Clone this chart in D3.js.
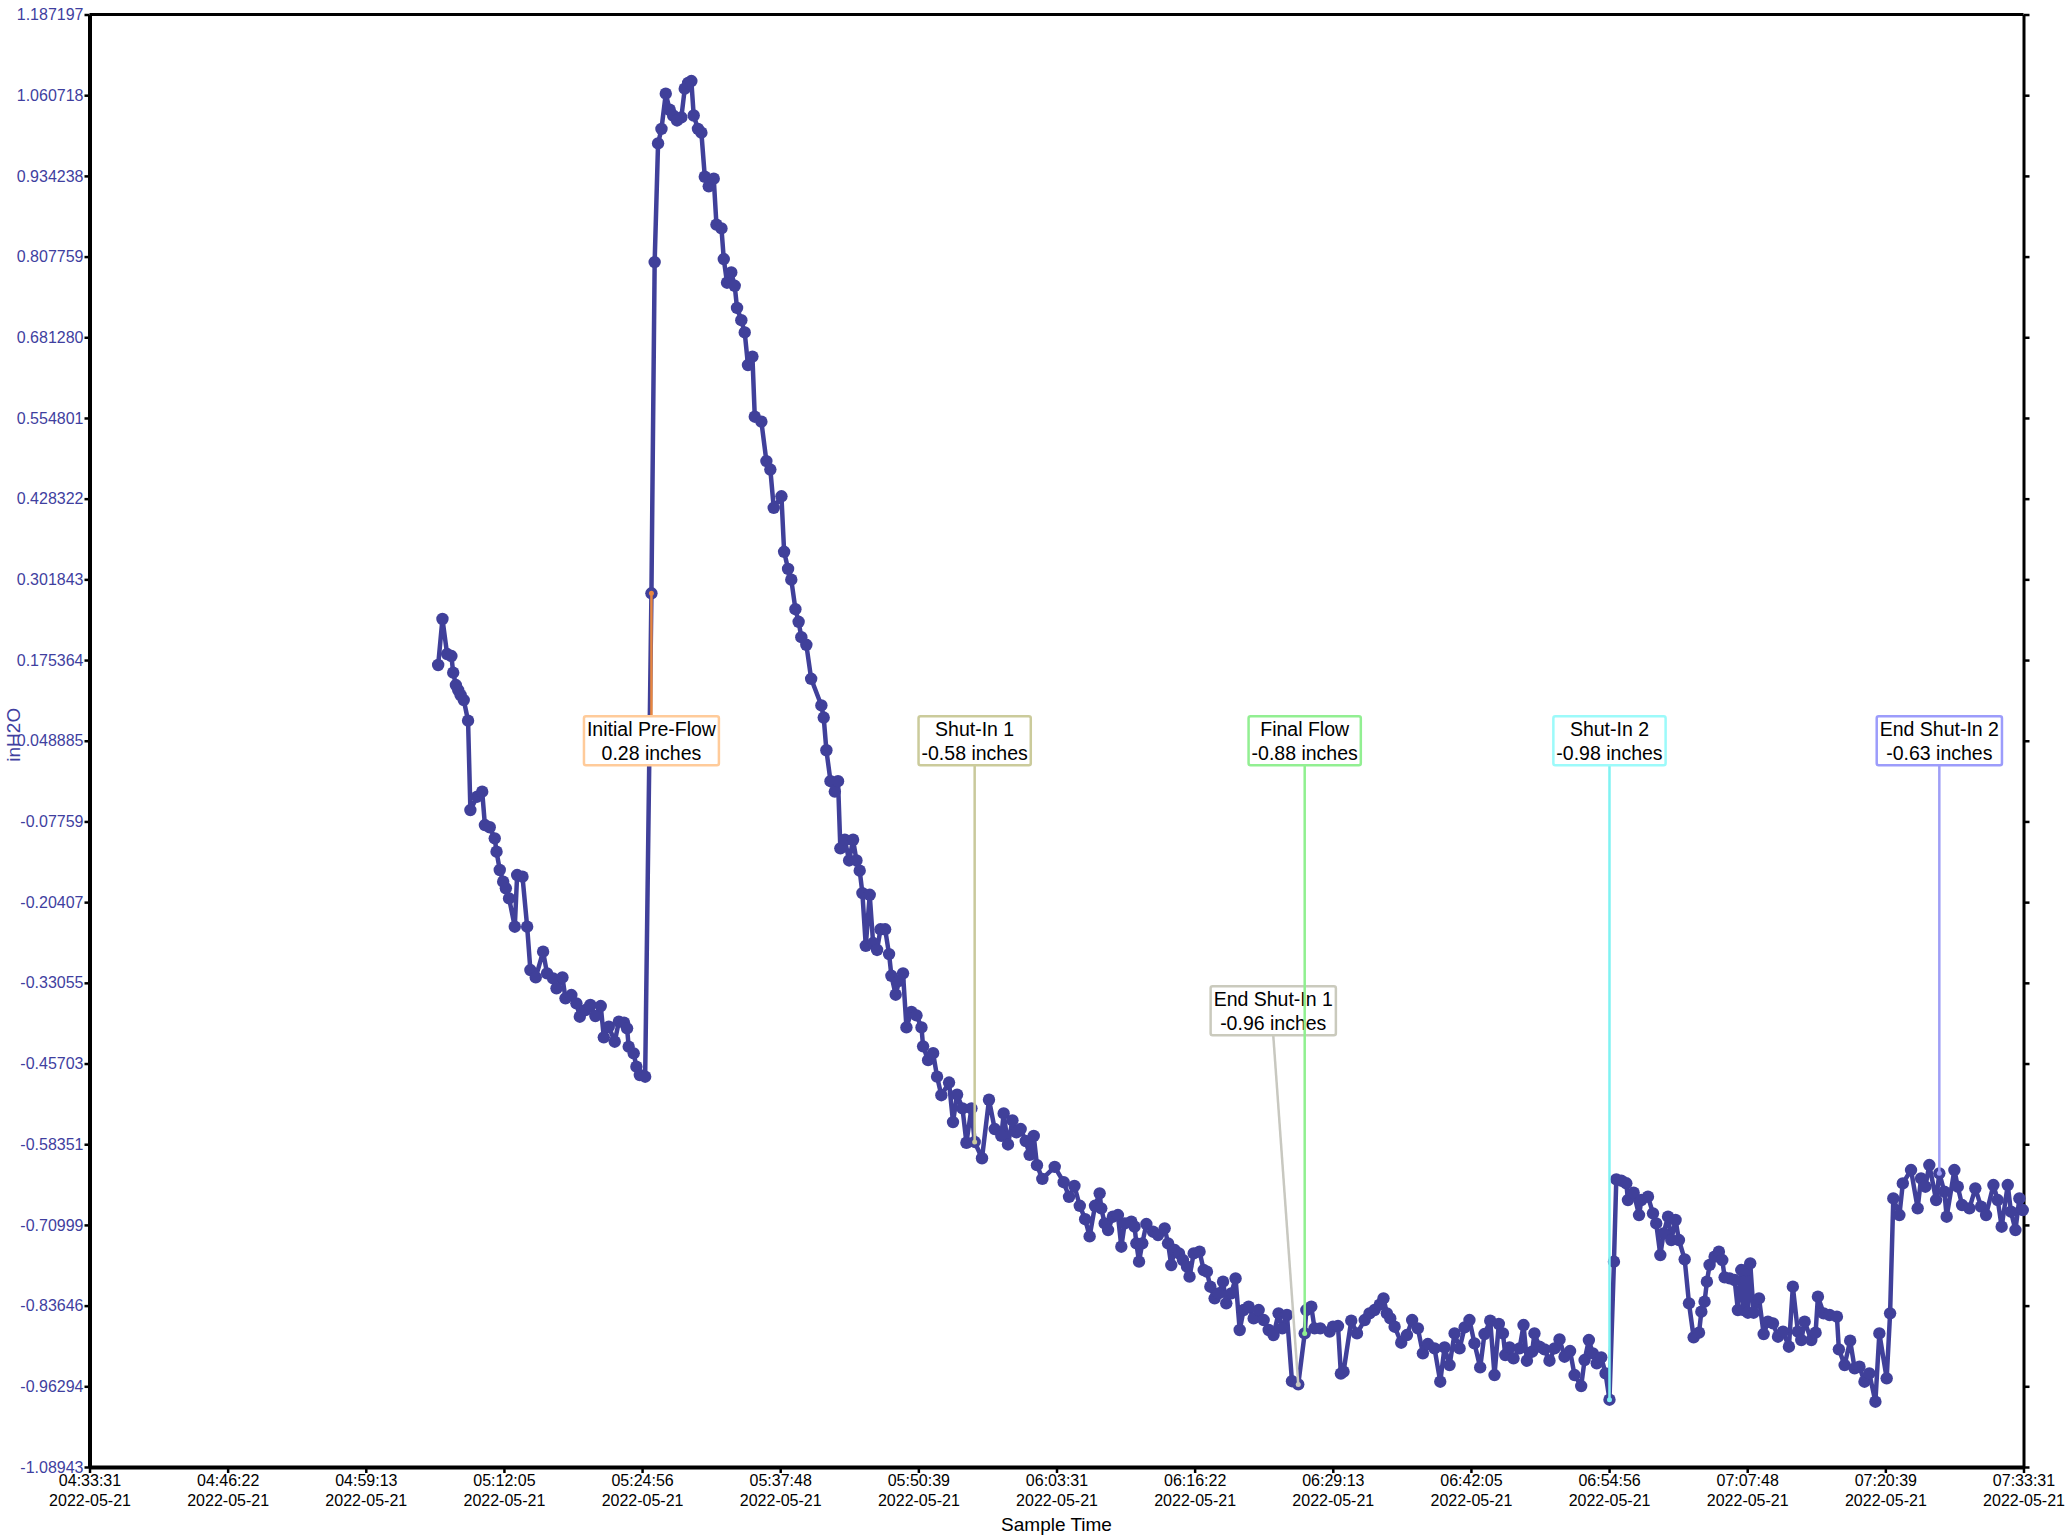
<!DOCTYPE html>
<html>
<head>
<meta charset="utf-8">
<script src="https://cdnjs.cloudflare.com/ajax/libs/d3/7.8.5/d3.min.js"></script>
<style>
  html, body { margin: 0; padding: 0; background: #fff; }
  svg { display: block; font-family: "Liberation Sans", Arial, sans-serif; }
</style>
</head>
<body>
<svg id="chart" width="2067" height="1536"></svg>
<script>
// Sample times, in seconds after 2022-05-21 04:33:31
var elapsedSec = [
  1947, 1971, 1997, 2021, 2031, 2046, 2059, 2072, 2090, 2114, 2127, 2165, 2193, 2208, 2235, 2263, 2273, 2291, 2310, 2325, 2343, 2375, 2388, 2418, 2444, 2462, 2492, 2533, 2555, 2589, 2608, 2641, 2658, 2691, 2719, 2738, 2770, 2797, 2825, 2855, 2872, 2900, 2933, 2956, 2985, 3002, 3011, 3039, 3054, 3073, 3103, 3138,
  3156, 3175, 3194, 3218, 3240, 3259, 3281, 3305, 3324, 3343, 3361, 3374, 3398, 3417, 3436, 3458, 3486, 3501, 3529, 3542, 3560, 3584, 3603, 3616, 3640, 3659, 3677, 3702, 3715, 3752, 3780, 3802, 3821, 3864, 3879, 3901, 3919, 3942, 3960, 3975, 4003, 4030,
  4087, 4100, 4115, 4138, 4162, 4180, 4193, 4218, 4242, 4264, 4283, 4301, 4316, 4335, 4357, 4376, 4398, 4417, 4443, 4465, 4478, 4502, 4521, 4543, 4562, 4590, 4618, 4646, 4655, 4683, 4711, 4733, 4757, 4800, 4822, 4845, 4875, 4897, 4925, 4943, 4984, 5023, 5055, 5092, 5105, 5129, 5154, 5176, 5200, 5228, 5250, 5273, 5291, 5321, 5390,
  5440, 5470, 5500, 5530, 5560, 5585, 5615,
  5641, 5650, 5669, 5688, 5715, 5743, 5762, 5781, 5818, 5836, 5846, 5861, 5879, 5902, 5939, 5967, 6004, 6023, 6041, 6060, 6084, 6106, 6129, 6143, 6166, 6199, 6222, 6240, 6259, 6283, 6305, 6330, 6348, 6376, 6400, 6423, 6445, 6473, 6501, 6529, 6557, 6585, 6612, 6640, 6661, 6687, 6715, 6750, 6786, 6795, 6823, 6841, 6873, 6925, 6944, 6972, 6988, 7003, 7046, 7078, 7121, 7148, 7176, 7205,
  7226, 7245, 7264, 7288, 7325, 7357, 7386, 7418, 7446, 7474, 7511, 7543, 7567, 7595, 7623, 7651, 7679, 7706, 7734, 7766, 7790, 7822, 7846, 7870, 7893, 7906, 7930, 7952, 7986, 8008, 8027, 8056, 8069, 8097, 8125, 8153, 8181, 8209, 8237, 8268, 8293, 8330, 8349, 8373, 8395, 8417, 8442, 8466, 8488, 8513,
  8526, 8554, 8582, 8591, 8623, 8653, 8666, 8703, 8731, 8749, 8772, 8790, 8815, 8833, 8857, 8876, 8908, 8932, 8958, 8988, 9001, 9019, 9032, 9047, 9075, 9099, 9118, 9131, 9159, 9187, 9205, 9224, 9237, 9252, 9261, 9274, 9293, 9323, 9349, 9373, 9401, 9429, 9457, 9490, 9512, 9540, 9559, 9578, 9615, 9639, 9652, 9684, 9717, 9758, 9769, 9801, 9832, 9857, 9884, 9912, 9939, 9973, 9995, 10036, 10055, 10073, 10107, 10126, 10172, 10209, 10228, 10252, 10274, 10312, 10330, 10358, 10371, 10414, 10433, 10457, 10498, 10531, 10563, 10591, 10632, 10656, 10678, 10712, 10730, 10755, 10777, 10796
];

// Pressure readings (inH2O)
var inH2O = [
  0.1676, 0.2397, 0.1848, 0.1817, 0.1556, 0.1362, 0.1284, 0.1206, 0.1127, 0.0803, -0.0597, -0.0388, -0.0310, -0.0832, -0.0867, -0.1041, -0.1250, -0.1537, -0.1720, -0.1825, -0.1982, -0.2426, -0.1616, -0.1642, -0.2426, -0.3105, -0.3220, -0.2817, -0.3157, -0.3236, -0.3392, -0.3220, -0.3549, -0.3497, -0.3627, -0.3836, -0.3732, -0.3653, -0.3826, -0.3669, -0.4160, -0.3993, -0.4228, -0.3915, -0.3930, -0.4019, -0.4307, -0.4411, -0.4620, -0.4751, -0.4777, 0.2800,
  0.7991, 0.9851, 1.0079, 1.0631, 1.0379, 1.0289, 1.0211, 1.0259, 1.0709, 1.0799, 1.0829, 1.0289, 1.0079, 1.0019, 0.9329, 0.9179, 0.9299, 0.8579, 0.8519, 0.8039, 0.7668, 0.7829, 0.7620, 0.7272, 0.7080, 0.6888, 0.6378, 0.6510, 0.5568, 0.5490, 0.4872, 0.4740, 0.4140, 0.4320, 0.3451, 0.3181, 0.3013, 0.2551, 0.2353, 0.2113, 0.1993, 0.1460,
  0.1042, 0.0853, 0.0340, -0.0145, -0.0307, -0.0145, -0.1198, -0.1063, -0.1387, -0.1063, -0.1387, -0.1548, -0.1899, -0.2725, -0.1926, -0.2682, -0.2790, -0.2466, -0.2466, -0.2855, -0.3195, -0.3492, -0.3276, -0.3157, -0.4004, -0.3761, -0.3815, -0.4004, -0.4301, -0.4517, -0.4409, -0.4776, -0.5067, -0.4868, -0.5488, -0.5057, -0.5273, -0.5812, -0.5273, -0.5800, -0.6055, -0.5138, -0.5597, -0.5705, -0.5353, -0.5839, -0.5461, -0.5650, -0.5597, -0.5785, -0.6001, -0.5705, -0.6163, -0.6379, -0.6190,
  -0.6430, -0.6660, -0.6490, -0.6800, -0.7010, -0.7280, -0.6800,
  -0.6605, -0.6840, -0.7076, -0.7180, -0.6971, -0.6945, -0.7441, -0.7076, -0.7049, -0.7128, -0.7389, -0.7676, -0.7389, -0.7086, -0.7206, -0.7258, -0.7154, -0.7389, -0.7729, -0.7494, -0.7546, -0.7650, -0.7755, -0.7911, -0.7546, -0.7520, -0.7807, -0.7833, -0.8068, -0.8251, -0.8173, -0.7990, -0.8329, -0.8173, -0.7938, -0.8747, -0.8434, -0.8382, -0.8565, -0.8434, -0.8591, -0.8747, -0.8826, -0.8486, -0.8721, -0.8512, -0.9550, -0.9600, -0.8800, -0.8434, -0.8382, -0.8721, -0.8721, -0.8773, -0.8695, -0.8685, -0.9430, -0.9400, -0.8601, -0.8800, -0.8591, -0.8486, -0.8434, -0.8350,
  -0.8251, -0.8486, -0.8565, -0.8695, -0.8946, -0.8826, -0.8591, -0.8721, -0.9113, -0.8967, -0.9035, -0.9557, -0.9019, -0.9296, -0.8800, -0.9035, -0.8706, -0.8591, -0.8956, -0.9333, -0.8810, -0.8601, -0.9453, -0.8653, -0.8800, -0.9139, -0.9019, -0.9192, -0.9035, -0.8669, -0.9228, -0.9087, -0.8800, -0.9009, -0.9050, -0.9228, -0.9035, -0.8894, -0.9166, -0.9077, -0.9453, -0.9625, -0.9218, -0.8904, -0.9113, -0.9270, -0.9176, -0.9427, -0.9840, -0.7676,
  -0.6386, -0.6407, -0.6448, -0.6710, -0.6595, -0.6945, -0.6710, -0.6658, -0.6919, -0.7076, -0.7572, -0.7232, -0.6971, -0.7337, -0.7023, -0.7337, -0.7640, -0.8329, -0.8862, -0.8789, -0.8460, -0.8303, -0.7990, -0.7728, -0.7598, -0.7520, -0.7650, -0.7922, -0.7938, -0.7964, -0.8434, -0.7807, -0.8434, -0.7807, -0.8476, -0.7702, -0.8476, -0.8251, -0.8810, -0.8617, -0.8643, -0.8852, -0.8774, -0.9009, -0.8068, -0.8774, -0.8904, -0.8617, -0.8904, -0.8789, -0.8225, -0.8486, -0.8512, -0.8538, -0.9050, -0.9296, -0.8915, -0.9348, -0.9322, -0.9557, -0.9427, -0.9871, -0.8800, -0.9505, -0.8486, -0.6684, -0.6945, -0.6449, -0.6240, -0.6840, -0.6370, -0.6501, -0.6161, -0.6710, -0.6292, -0.6579, -0.6971, -0.6240, -0.6501, -0.6788, -0.6840, -0.6527, -0.6814, -0.6945, -0.6475, -0.6710, -0.7128, -0.6475, -0.6893, -0.7180, -0.6684, -0.6867
];

// Axis tick labels
var yTickLabels = ["1.187197", "1.060718", "0.934238", "0.807759", "0.681280", "0.554801", "0.428322",
  "0.301843", "0.175364", "0.048885", "-0.07759", "-0.20407", "-0.33055", "-0.45703", "-0.58351",
  "-0.70999", "-0.83646", "-0.96294", "-1.08943"];
var xTickTimes = ["04:33:31", "04:46:22", "04:59:13", "05:12:05", "05:24:56", "05:37:48", "05:50:39",
  "06:03:31", "06:16:22", "06:29:13", "06:42:05", "06:54:56", "07:07:48", "07:20:39", "07:33:31"];
var xTickDate = "2022-05-21";

// Test events (name, sample time in seconds after start)
var eventNames = ["Initial Pre-Flow", "Shut-In 1", "End Shut-In 1", "Final Flow", "Shut-In 2", "End Shut-In 2"];
var eventSec = [3138, 4943, 6750, 6786, 8488, 10330];

// event styling
var eventBorder = ["#ffcb9a", "#cbcb9b", "#cacabd", "#92ef92", "#9cfafa", "#9c9cfb"];
var eventLine = ["#e8873f", "#c9c99b", "#c8c8c0", "#8ff08f", "#7ff3f3", "#9f9ff7"];
var eventShift = [[0, 0], [0, 0], [-25, 270], [0, 0], [0, 0], [0, 0]];

var startTime = new Date(2022, 4, 21, 4, 33, 31);
var endTime = new Date(2022, 4, 21, 7, 33, 31);

var data = elapsedSec.slice(0, inH2O.length).map(function (s, i) {
  return { time: new Date(startTime.getTime() + s * 1000), value: inH2O[i] };
});

var svg = d3.select("#chart"),
  width = 2067,
  height = 1536,
  margin = { top: 14.5, right: 43.5, bottom: 69, left: 89.5 },
  lineColor = "#40409a",
  labelBlue = "#3f3f9f";

var x = d3.scaleTime()
  .domain([startTime, endTime])
  .range([margin.left, width - margin.right]);

var y = d3.scaleLinear()
  .domain([-1.08943, 1.187197])
  .range([height - margin.bottom, margin.top]);

var yTickValues = yTickLabels.map(Number);
var xTickValues = xTickTimes.map(function (_, i) {
  return new Date(startTime.getTime() + i * (endTime - startTime) / (xTickTimes.length - 1));
});

// Axes
var gy = svg.append("g")
  .attr("transform", `translate(${margin.left},0)`)
  .call(d3.axisLeft(y).tickValues(yTickValues).tickSize(5).tickPadding(1).tickSizeOuter(0)
    .tickFormat(function (d, i) { return yTickLabels[i]; }));
gy.selectAll(".tick line").attr("stroke", "#000").attr("stroke-width", 2.5);
gy.selectAll(".tick text").attr("fill", labelBlue).style("font-size", "16px")
  .style("font-family", "'Liberation Sans', Arial, sans-serif");
gy.select(".domain").attr("stroke-width", 4);

var gr = svg.append("g")
  .attr("transform", `translate(${width - margin.right},0)`)
  .call(d3.axisRight(y).tickValues(yTickValues).tickSize(6).tickSizeOuter(0).tickFormat(""));
gr.selectAll(".tick line").attr("stroke", "#000").attr("stroke-width", 2.5);
gr.select(".domain").attr("stroke-width", 3);

var gx = svg.append("g")
  .attr("transform", `translate(0,${height - margin.bottom})`)
  .call(d3.axisBottom(x).tickValues(xTickValues).tickSize(6).tickSizeOuter(0)
    .tickFormat(function (d, i) { return xTickTimes[i]; }));
gx.selectAll(".tick line").attr("stroke", "#000").attr("stroke-width", 2.5);
gx.select(".domain").attr("stroke-width", 4);
gx.selectAll(".tick text").each(function (d, i) {
  var t = d3.select(this).text(null).attr("y", null).attr("dy", null)
    .attr("fill", "#000").style("font-size", "16px")
    .style("font-family", "'Liberation Sans', Arial, sans-serif");
  t.append("tspan").attr("x", 0).attr("y", 19).text(xTickTimes[i]);
  t.append("tspan").attr("x", 0).attr("y", 38.5).text(xTickDate);
});

// top border
svg.append("line")
  .attr("x1", margin.left).attr("x2", width - margin.right)
  .attr("y1", margin.top).attr("y2", margin.top)
  .attr("stroke", "#000").attr("stroke-width", 3);

// Axis titles
svg.append("text")
  .attr("transform", `translate(19.5,${(margin.top + height - margin.bottom) / 2 - 6}) rotate(-90)`)
  .attr("text-anchor", "middle")
  .attr("fill", labelBlue)
  .style("font-size", "19px")
  .text("inH2O");

svg.append("text")
  .attr("x", (margin.left + width - margin.right) / 2)
  .attr("y", 1531)
  .attr("text-anchor", "middle")
  .attr("fill", "#000")
  .style("font-size", "19px")
  .text("Sample Time");

// Data line and points
var line = d3.line()
  .x(function (d) { return x(d.time); })
  .y(function (d) { return y(d.value); });

svg.append("path")
  .datum(data)
  .attr("fill", "none")
  .attr("stroke", lineColor)
  .attr("stroke-width", 4.5)
  .attr("stroke-linejoin", "round")
  .attr("d", line);

svg.append("g")
  .selectAll("circle")
  .data(data)
  .join("circle")
  .attr("cx", function (d) { return x(d.time); })
  .attr("cy", function (d) { return y(d.value); })
  .attr("r", 6.2)
  .attr("fill", lineColor);

// Event annotations
var midY = (margin.top + height - margin.bottom) / 2;
eventNames.forEach(function (name, i) {
  var pt = data.find(function (d) { return d.time.getTime() === startTime.getTime() + eventSec[i] * 1000; });
  var px = x(pt.time), py = y(pt.value);
  var cx = px + eventShift[i][0], cy = midY + eventShift[i][1];
  var g = svg.append("g");
  var connector = g.append("line")
    .attr("stroke", eventLine[i])
    .attr("stroke-width", 2.5);
  var box = g.append("rect")
    .attr("fill", "#fff")
    .attr("stroke", eventBorder[i])
    .attr("stroke-width", 2.5)
    .attr("rx", 2);
  var txt = g.append("text")
    .attr("text-anchor", "middle")
    .attr("fill", "#000")
    .style("font-size", "19.5px");
  var l1 = txt.append("tspan").attr("x", cx).attr("y", cy - 12).attr("dominant-baseline", "central").text(name);
  var l2 = txt.append("tspan").attr("x", cx).attr("y", cy + 12).attr("dominant-baseline", "central")
    .text(pt.value.toFixed(2) + " inches");
  var w = Math.max(l1.node().getComputedTextLength(), l2.node().getComputedTextLength()) + 6,
    h = 49;
  box.attr("x", cx - w / 2).attr("y", cy - h / 2).attr("width", w).attr("height", h);
  connector
    .attr("x1", cx).attr("y1", py < cy ? cy - h / 2 : cy + h / 2)
    .attr("x2", px).attr("y2", py);
  g.append("circle")
    .attr("cx", px).attr("cy", py).attr("r", 2.5)
    .attr("fill", eventLine[i]);
});
</script>
</body>
</html>
